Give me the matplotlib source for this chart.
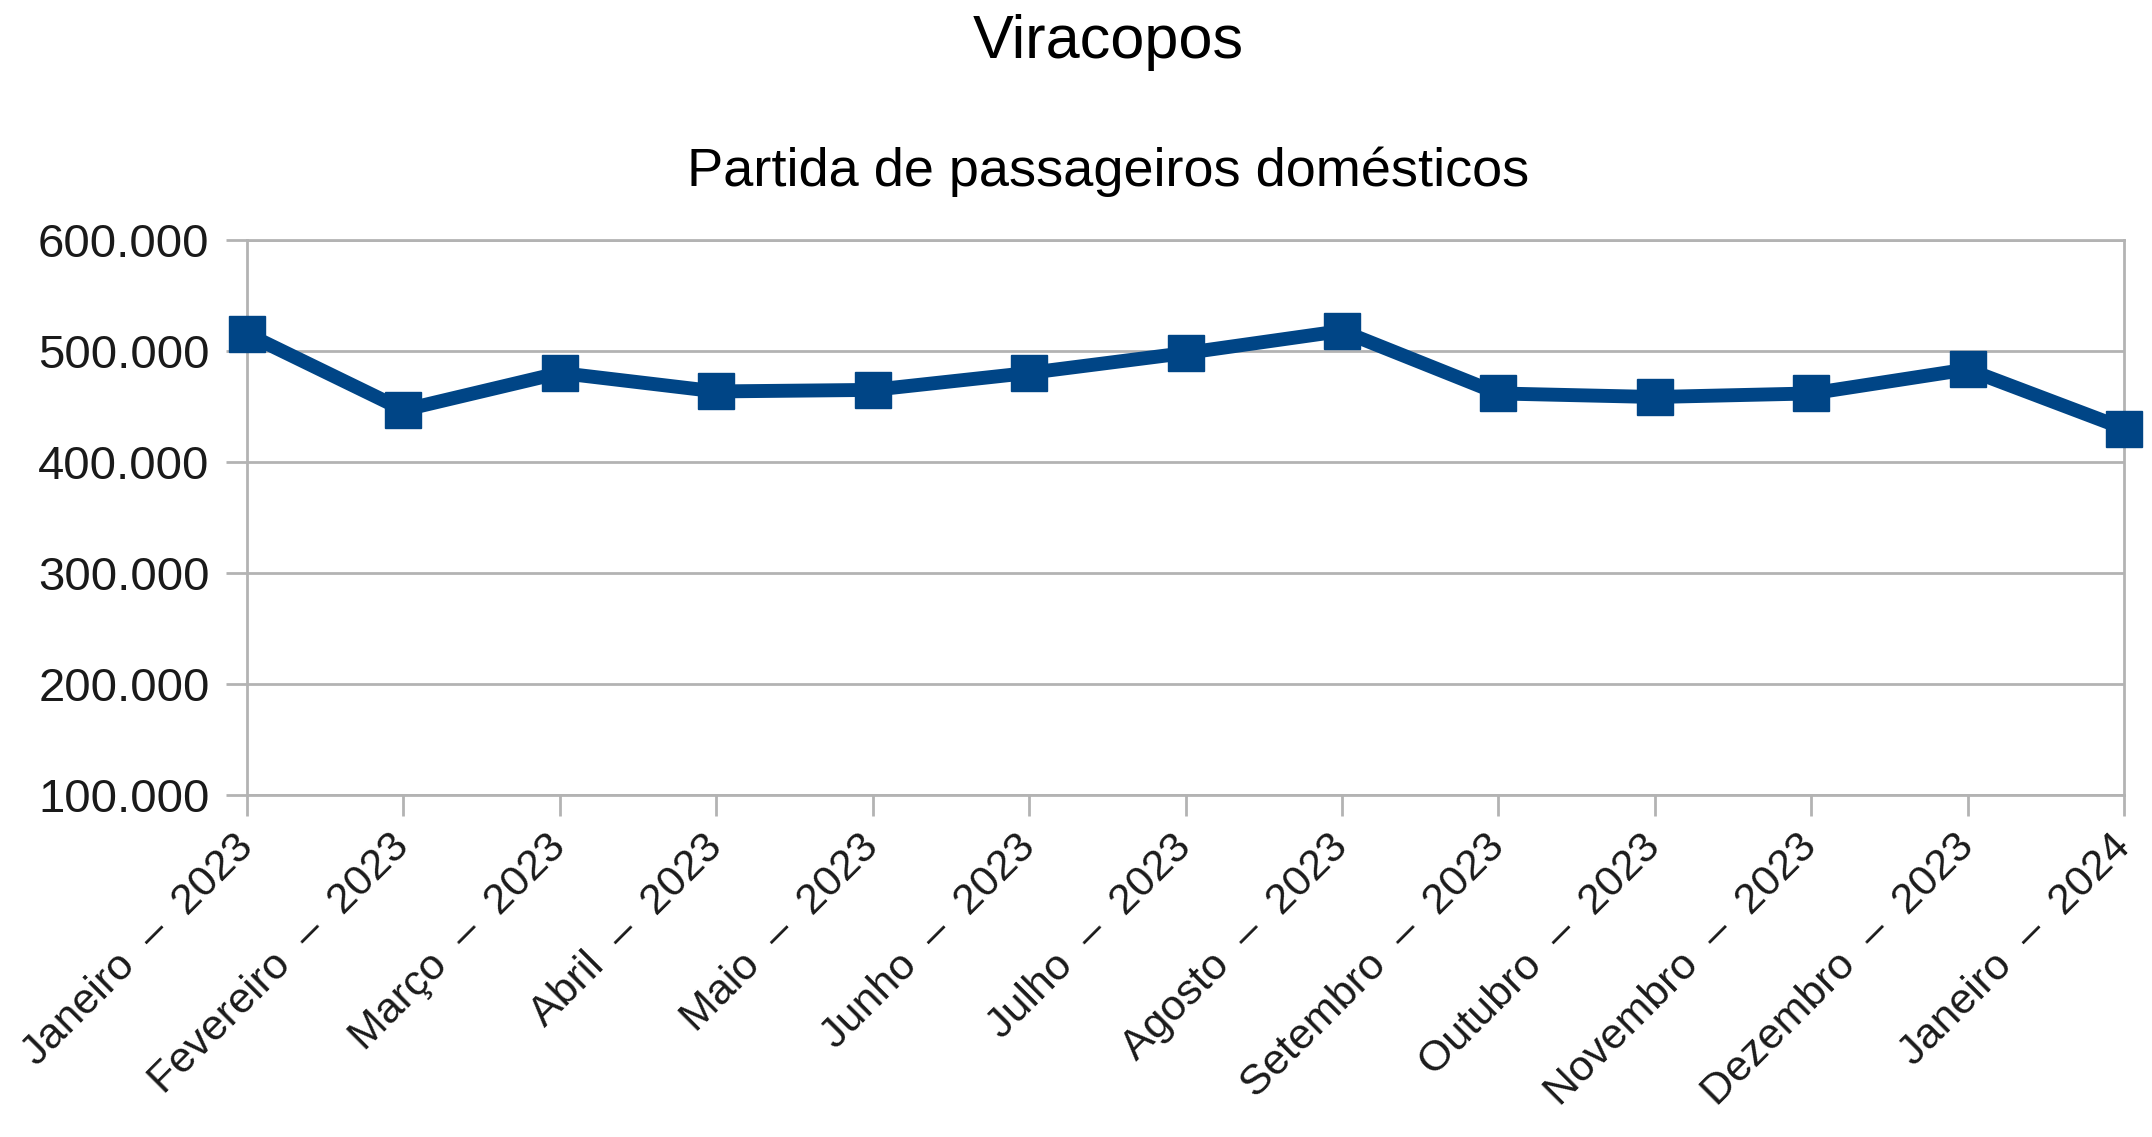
import matplotlib
matplotlib.use("Agg")
import matplotlib.pyplot as plt
from matplotlib.ticker import FuncFormatter

# dados (partidas domésticas, Viracopos)
meses = ["Janeiro  –  2023", "Fevereiro  –  2023", "Março  –  2023", "Abril  –  2023",
         "Maio  –  2023", "Junho  –  2023", "Julho  –  2023", "Agosto  –  2023",
         "Setembro  –  2023", "Outubro  –  2023", "Novembro  –  2023",
         "Dezembro  –  2023", "Janeiro  –  2024"]
passageiros = [515300, 446800, 480200, 463500, 464900, 480200, 498100,
               518000, 461700, 458500, 461700, 483400, 430100]
y_ticks = [100000, 200000, 300000, 400000, 500000, 600000]

AZUL = "#004586"
CINZA = "#b3b3b3"

plt.rcParams["font.family"] = ["Liberation Sans", "DejaVu Sans"]

fig = plt.figure(figsize=(21.52, 11.37), dpi=100)
ax = fig.add_axes([0.1148, 0.3008, 0.987 - 0.1148, 0.789 - 0.3008])

x = list(range(len(meses)))
ax.plot(x, passageiros, color=AZUL, linewidth=10, marker="s",
        markersize=26.5, zorder=3, clip_on=False)

ax.set_xlim(0, len(meses) - 1)
ax.set_ylim(y_ticks[0], y_ticks[-1])
ax.set_yticks(y_ticks)
ax.yaxis.set_major_formatter(FuncFormatter(lambda v, p: f"{int(v):,}".replace(",", ".")))
ax.grid(axis="y", color=CINZA, linewidth=2)
ax.set_axisbelow(True)

ax.set_xticks(x)
ax.set_xticklabels(meses, rotation=45, ha="right", va="center",
                   rotation_mode="anchor", fontsize=31)
for s in ax.spines.values():
    s.set_color(CINZA)
    s.set_linewidth(2)
ax.tick_params(axis="both", color=CINZA, width=2, length=15, direction="out")
ax.tick_params(axis="y", labelsize=34, pad=12, labelcolor="#1a1a1a")
ax.tick_params(axis="x", pad=18, labelcolor="#1a1a1a")

fig.text(0.515, 0.963, "Viracopos", ha="center", va="center", fontsize=44)
fig.text(0.515, 0.849, "Partida de passageiros domésticos", ha="center",
         va="center", fontsize=39)

fig.savefig("out.png", dpi=100)
